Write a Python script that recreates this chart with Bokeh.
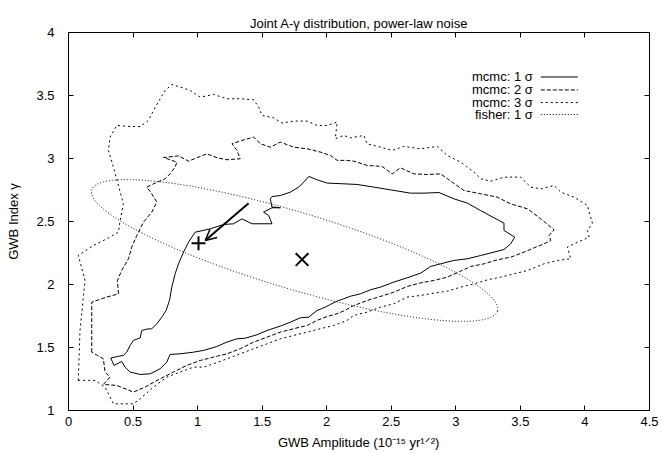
from bokeh.plotting import figure
from bokeh.models import (LinearAxis, FixedTicker, NumeralTickFormatter, Label,
                          Arrow, OpenHead, Range1d, CustomJSTickFormatter)
from bokeh.embed import file_html
from bokeh.resources import INLINE

# ---------------- data ----------------
x_ticks = [0, 0.5, 1, 1.5, 2, 2.5, 3, 3.5, 4, 4.5]
y_ticks = [1, 1.5, 2, 2.5, 3, 3.5, 4]

title_text = "Joint A-\u03b3 distribution, power-law noise"
ylabel_text = "GWB Index \u03b3"
xlabel_text = "GWB Amplitude (10\u207b\u00b9\u2075 yr\u00b9\u141f\u00b2)"
legend_labels = ["mcmc: 1 \u03c3", "mcmc: 2 \u03c3", "mcmc: 3 \u03c3", "fisher: 1 \u03c3"]

sigma1_x = [0.327, 0.379, 0.425, 0.451, 0.477, 0.503, 0.555, 0.568, 0.607, 0.645,
            0.684, 0.723, 0.756, 0.782, 0.800, 0.826, 0.852, 0.891, 0.930, 0.981,
            1.098, 1.201, 1.279, 1.343, 1.421, 1.576, 1.550, 1.511, 1.576, 1.641,
            1.576, 1.563, 1.576, 1.641, 1.718, 1.783, 1.822, 1.861, 1.925, 2.003,
            2.132, 2.235, 2.365, 2.494, 2.649, 2.753, 2.869, 2.985, 3.089, 3.192,
            3.296, 3.373, 3.373, 3.456, 3.425, 3.373, 3.296, 3.192, 3.089, 2.985,
            2.882, 2.804, 2.727, 2.623, 2.520, 2.416, 2.339, 2.261, 2.184, 2.132,
            2.080, 2.029, 1.977, 1.925, 1.861, 1.796, 1.718, 1.641, 1.537, 1.460,
            1.369, 1.305, 1.227, 1.149, 1.046, 0.968, 0.865, 0.787, 0.761, 0.710,
            0.632, 0.555, 0.477, 0.438, 0.412, 0.353, 0.327]
sigma1_y = [1.416, 1.429, 1.437, 1.463, 1.516, 1.556, 1.577, 1.635, 1.646, 1.649,
            1.688, 1.741, 1.794, 1.873, 1.979, 2.085, 2.164, 2.257, 2.336, 2.415,
            2.442, 2.476, 2.482, 2.521, 2.482, 2.482, 2.548, 2.574, 2.609, 2.609,
            2.615, 2.680, 2.698, 2.706, 2.733, 2.773, 2.813, 2.858, 2.831, 2.805,
            2.799, 2.794, 2.773, 2.751, 2.725, 2.725, 2.730, 2.680, 2.646, 2.587,
            2.529, 2.487, 2.429, 2.376, 2.323, 2.278, 2.257, 2.230, 2.204, 2.191,
            2.164, 2.143, 2.090, 2.053, 2.019, 1.979, 1.958, 1.926, 1.907, 1.887,
            1.868, 1.842, 1.815, 1.794, 1.741, 1.736, 1.701, 1.670, 1.635, 1.601,
            1.574, 1.569, 1.543, 1.508, 1.477, 1.463, 1.450, 1.445, 1.384, 1.331,
            1.291, 1.286, 1.305, 1.344, 1.389, 1.358, 1.416]

sigma2_x = [0.180, 0.180, 0.296, 0.387, 0.379, 0.412, 0.464, 0.490, 0.529, 0.581,
            0.645, 0.684, 0.645, 0.606, 0.658, 0.749, 0.787, 0.826, 0.839, 0.736,
            0.852, 0.930, 0.994, 1.072, 1.150, 1.227, 1.330, 1.305, 1.266, 1.343,
            1.434, 1.486, 1.563, 1.641, 1.744, 1.848, 1.951, 2.029, 2.081, 2.158,
            2.209, 2.313, 2.429, 2.507, 2.571, 2.675, 2.778, 2.882, 2.972, 3.063,
            3.192, 3.321, 3.425, 3.554, 3.658, 3.761, 3.722, 3.735, 3.683, 3.606,
            3.528, 3.425, 3.321, 3.218, 3.115, 3.037, 2.933, 2.830, 2.727, 2.623,
            2.520, 2.416, 2.313, 2.209, 2.132, 2.080, 2.003, 1.925, 1.848, 1.744,
            1.641, 1.537, 1.434, 1.330, 1.227, 1.124, 1.020, 0.917, 0.813, 0.710,
            0.593, 0.503, 0.374, 0.270, 0.322, 0.283, 0.270, 0.180]
sigma2_y = [1.463, 1.860, 1.900, 1.926, 2.032, 2.112, 2.204, 2.297, 2.389, 2.495,
            2.575, 2.654, 2.720, 2.773, 2.799, 2.839, 2.879, 2.932, 2.971, 3.008,
            3.021, 2.979, 3.006, 3.037, 3.006, 2.990, 2.998, 3.064, 3.117, 3.143,
            3.170, 3.117, 3.090, 3.130, 3.090, 3.077, 3.051, 3.024, 2.985, 2.985,
            2.979, 2.945, 2.937, 2.878, 2.926, 2.878, 2.873, 2.878, 2.812, 2.746,
            2.720, 2.693, 2.640, 2.601, 2.521, 2.434, 2.389, 2.349, 2.323, 2.291,
            2.257, 2.217, 2.196, 2.164, 2.143, 2.106, 2.058, 2.032, 2.013, 1.984,
            1.939, 1.905, 1.873, 1.833, 1.790, 1.768, 1.746, 1.715, 1.675, 1.649,
            1.622, 1.582, 1.543, 1.490, 1.450, 1.424, 1.397, 1.358, 1.305, 1.252,
            1.186, 1.146, 1.199, 1.207, 1.265, 1.305, 1.410, 1.463]

sigma3_x = [0.076, 0.089, 0.128, 0.076, 0.193, 0.297, 0.387, 0.400, 0.425, 0.348,
            0.309, 0.322, 0.374, 0.477, 0.555, 0.619, 0.658, 0.710, 0.749, 0.800,
            0.865, 0.943, 1.020, 1.124, 1.228, 1.330, 1.434, 1.473, 1.499, 1.589,
            1.654, 1.744, 1.848, 1.925, 2.003, 2.080, 2.067, 2.132, 2.184, 2.287,
            2.313, 2.416, 2.507, 2.597, 2.727, 2.856, 2.934, 3.037, 3.140, 3.192,
            3.270, 3.373, 3.502, 3.580, 3.658, 3.761, 3.813, 3.916, 4.020, 4.033,
            4.058, 4.020, 4.033, 3.916, 3.864, 3.890, 3.787, 3.683, 3.554, 3.451,
            3.347, 3.244, 3.140, 3.037, 2.933, 2.830, 2.727, 2.623, 2.520, 2.416,
            2.313, 2.209, 2.158, 2.054, 1.951, 1.848, 1.744, 1.641, 1.537, 1.434,
            1.330, 1.227, 1.124, 1.046, 0.968, 0.865, 0.761, 0.658, 0.555, 0.503,
            0.425, 0.348, 0.283, 0.206, 0.076]
sigma3_y = [1.239, 1.635, 2.032, 2.231, 2.310, 2.363, 2.415, 2.508, 2.641, 2.932,
            3.064, 3.170, 3.262, 3.254, 3.254, 3.302, 3.381, 3.474, 3.540, 3.588,
            3.567, 3.540, 3.487, 3.508, 3.474, 3.474, 3.466, 3.408, 3.342, 3.323,
            3.281, 3.297, 3.297, 3.262, 3.262, 3.289, 3.157, 3.183, 3.164, 3.183,
            3.117, 3.090, 3.064, 3.096, 3.077, 3.096, 3.024, 2.971, 2.892, 2.839,
            2.820, 2.852, 2.852, 2.773, 2.759, 2.786, 2.733, 2.693, 2.627, 2.574,
            2.487, 2.429, 2.376, 2.323, 2.297, 2.204, 2.191, 2.164, 2.111, 2.085,
            2.058, 2.037, 2.005, 1.979, 1.947, 1.931, 1.913, 1.900, 1.847, 1.820,
            1.781, 1.754, 1.715, 1.675, 1.649, 1.622, 1.596, 1.569, 1.529, 1.490,
            1.450, 1.410, 1.371, 1.344, 1.344, 1.305, 1.265, 1.186, 1.093, 1.053,
            1.053, 1.053, 1.186, 1.239, 1.239]

# Fisher 1-sigma ellipse (centre, full width/height, rotation in radians)
fisher_x = [1.751]
fisher_y = [2.270]
fisher_w = [3.28]
fisher_h = [0.61]
fisher_angle = [-0.290]

# markers and arrow
plus_x, plus_y = [1.007], [2.328]
cross_x, cross_y = [1.809], [2.198]
arrow_start = (1.395, 2.645)
arrow_end = (1.059, 2.349)

# ---------------- figure ----------------
FONT = "Liberation Sans"
p = figure(width=662, height=453, x_range=Range1d(0, 4.5), y_range=Range1d(1, 4),
           output_backend="svg", toolbar_location=None,
           min_border_left=68, min_border_right=13, min_border_top=32,
           min_border_bottom=43)
p.background_fill_color = "white"
p.border_fill_color = "white"
p.outline_line_color = "black"
p.outline_line_width = 1
p.xgrid.visible = False
p.ygrid.visible = False

p.title.text = title_text
p.title.align = "center"
p.title.offset = 5
p.title.text_font = FONT
p.title.text_font_size = "13px"
p.title.text_font_style = "normal"
p.title.text_color = "black"
p.title.standoff = 4

blank = CustomJSTickFormatter(code="return ''")

def style_axis(ax, ticks, show_labels, standoff):
    ax.ticker = FixedTicker(ticks=ticks)
    ax.major_tick_in = 5
    ax.major_tick_out = 0
    ax.minor_tick_in = 0
    ax.minor_tick_out = 0
    ax.axis_line_color = "black"
    ax.major_tick_line_color = "black"
    ax.major_label_text_font = FONT
    ax.major_label_standoff = standoff
    ax.axis_label_text_font = FONT
    ax.axis_label_text_font_size = "13px"
    ax.axis_label_text_font_style = "normal"
    ax.axis_label_text_color = "black"
    if show_labels:
        ax.formatter = NumeralTickFormatter(format="0.[0]")
        ax.major_label_text_font_size = "13px"
        ax.major_label_text_color = "black"
    else:
        ax.formatter = blank
        ax.major_label_text_color = None

style_axis(p.xaxis[0], x_ticks, True, 6)
style_axis(p.yaxis[0], y_ticks, True, 14)
p.xaxis[0].axis_label = xlabel_text
p.xaxis[0].axis_label_standoff = 6
p.yaxis[0].axis_label = ylabel_text
p.yaxis[0].axis_label_standoff = 12
top_ax = LinearAxis()
right_ax = LinearAxis()
style_axis(top_ax, x_ticks, False, 0)
style_axis(right_ax, y_ticks, False, 0)
p.add_layout(top_ax, "above")
p.add_layout(right_ax, "right")

# contours
p.line(sigma3_x, sigma3_y, line_color="black", line_width=1, line_dash="2 3")
p.line(sigma2_x, sigma2_y, line_color="black", line_width=1, line_dash="4 2")
p.line(sigma1_x, sigma1_y, line_color="black", line_width=1)
p.ellipse(x=fisher_x, y=fisher_y, width=fisher_w, height=fisher_h, angle=fisher_angle,
          fill_color=None, line_color="black", line_width=1, line_dash="1 2")

# markers
p.scatter(plus_x, plus_y, marker="cross", size=14, line_width=2, line_color="black")
p.scatter(cross_x, cross_y, marker="x", size=18, line_width=2, line_color="black")
p.add_layout(Arrow(end=OpenHead(size=11, line_width=1.5, line_color="black"),
                   x_start=arrow_start[0], y_start=arrow_start[1],
                   x_end=arrow_end[0], y_end=arrow_end[1],
                   line_width=2, line_color="black"))

# legend (text right-aligned, sample line to its right)
legend_dash = [None, "4 2", "2 3", "1 2"]
legend_rows = [3.647, 3.544, 3.444, 3.349]
for lab, dash, ry in zip(legend_labels, legend_dash, legend_rows):
    p.add_layout(Label(x=3.596, y=ry, text=lab, text_align="right",
                       text_baseline="middle", text_font=FONT,
                       text_font_size="13px", text_color="black"))
    kw = dict(line_color="black", line_width=1)
    if dash:
        kw["line_dash"] = dash
    p.line([3.658, 3.945], [ry, ry], **kw)

open("out.html", "w").write(file_html(p, INLINE))
